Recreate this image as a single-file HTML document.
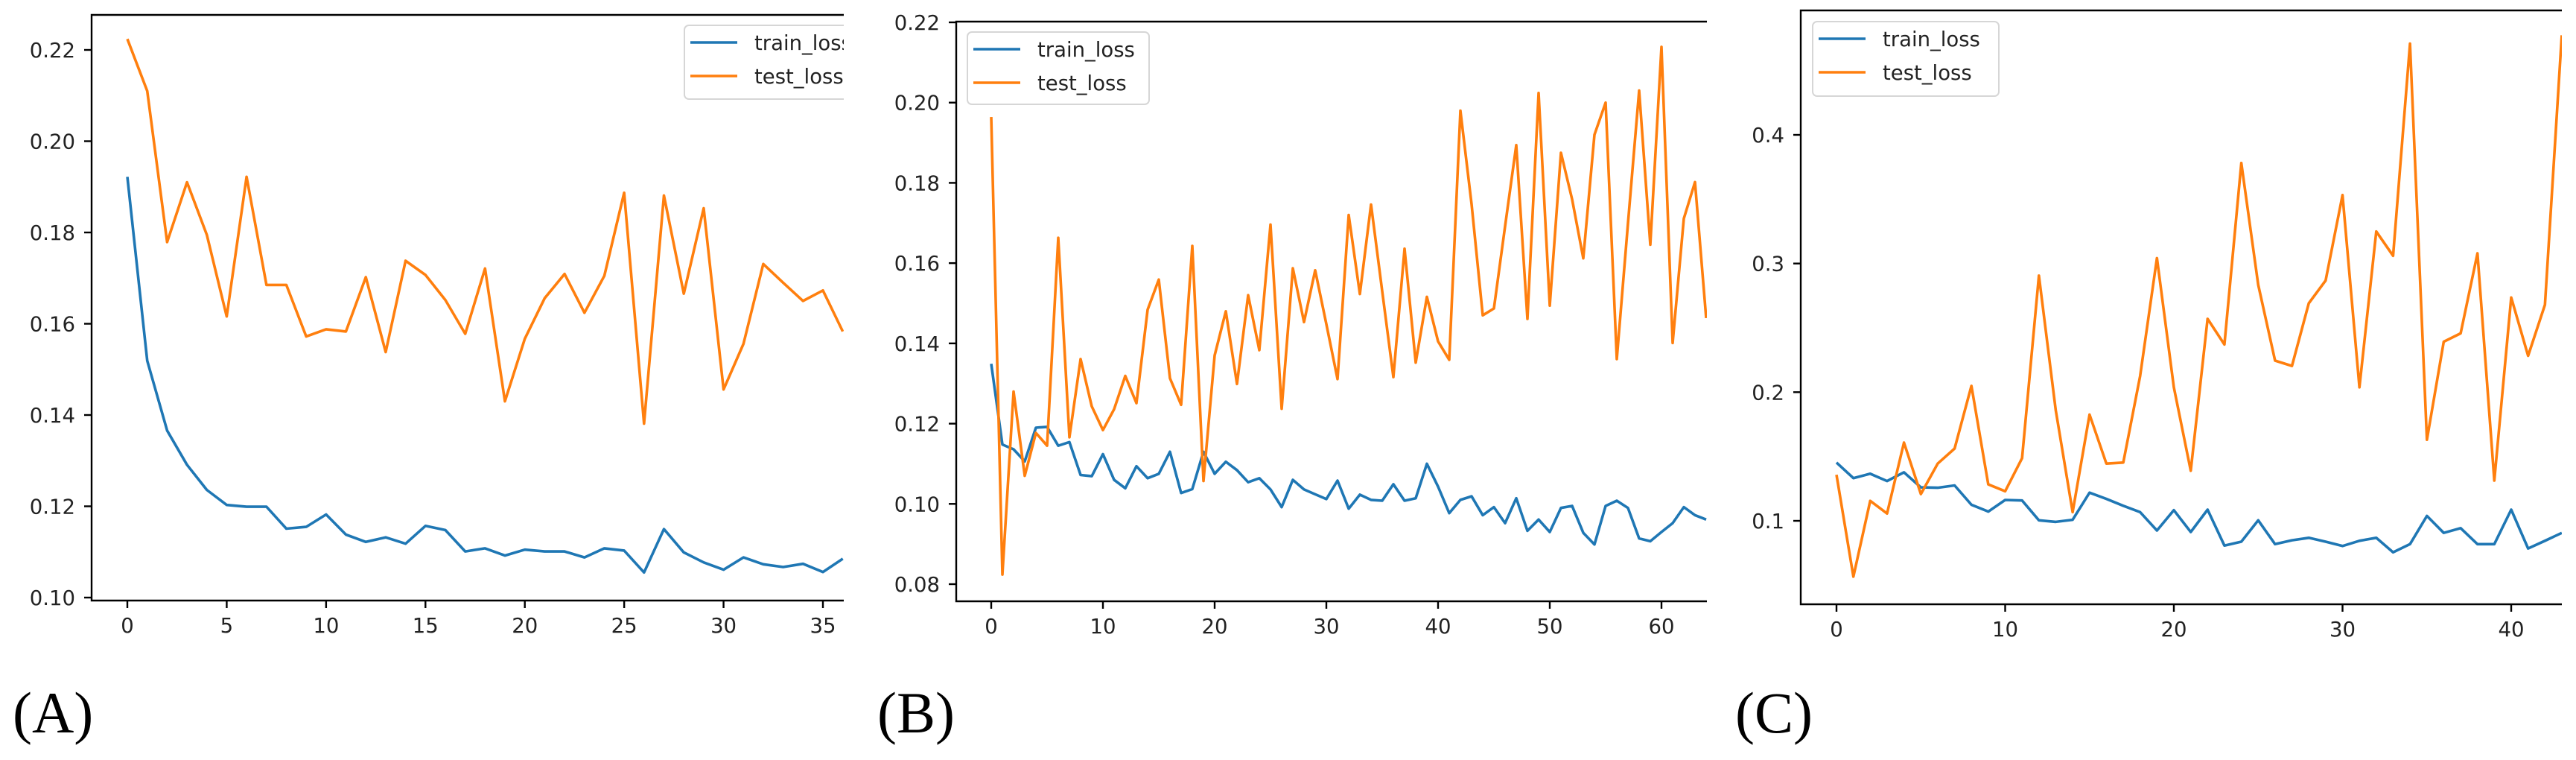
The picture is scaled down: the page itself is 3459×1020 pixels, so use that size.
<!DOCTYPE html>
<html><head><meta charset="utf-8"><style>
html,body{margin:0;padding:0;background:#fff;}
svg{display:block;}
</style></head><body>
<svg id="fig" width="3459" height="1020" xmlns="http://www.w3.org/2000/svg" font-family="DejaVu Sans, Liberation Sans, sans-serif">
<defs>
<clipPath id="clipA"><rect x="123" y="0" width="1010" height="1020"/></clipPath>
<clipPath id="clipB"><rect x="1284" y="0" width="1008" height="1020"/></clipPath>
<clipPath id="clipC"><rect x="2418" y="0" width="1022" height="1020"/></clipPath>
</defs>
<text x="17" y="983" font-family="Liberation Serif, serif" font-size="78">(A)</text>
<text x="1178" y="983" font-family="Liberation Serif, serif" font-size="78">(B)</text>
<text x="2330" y="983" font-family="Liberation Serif, serif" font-size="78">(C)</text>
</svg>
<script>
const trainA=[0.1922,0.1519,0.1366,0.1291,0.1236,0.1203,0.1199,0.1199,0.1151,0.1155,0.1182,0.1138,0.1122,0.1132,0.1118,0.1157,0.1148,0.1101,0.1108,0.1092,0.1105,0.1101,0.1101,0.1088,0.1108,0.1103,0.1055,0.1150,0.1099,0.1077,0.1061,0.1088,0.1073,0.1067,0.1074,0.1056,0.1085];
const testA=[0.2224,0.2110,0.1779,0.1910,0.1795,0.1616,0.1922,0.1685,0.1685,0.1572,0.1588,0.1583,0.1702,0.1538,0.1738,0.1707,0.1652,0.1578,0.1721,0.1430,0.1567,0.1656,0.1709,0.1624,0.1705,0.1887,0.1381,0.1881,0.1666,0.1853,0.1456,0.1556,0.1731,0.1690,0.1650,0.1673,0.1583];
const trainB=[0.1349,0.1148,0.1136,0.1106,0.1190,0.1192,0.1145,0.1154,0.1072,0.1069,0.1124,0.1060,0.1039,0.1094,0.1064,0.1075,0.1130,0.1027,0.1037,0.1130,0.1075,0.1105,0.1084,0.1054,0.1064,0.1036,0.0992,0.1060,0.1036,0.1024,0.1012,0.1058,0.0988,0.1023,0.1010,0.1008,0.1049,0.1008,0.1014,0.1100,0.1043,0.0977,0.1010,0.1019,0.0972,0.0992,0.0952,0.1014,0.0933,0.0961,0.0930,0.0990,0.0995,0.0928,0.0899,0.0995,0.1008,0.0990,0.0914,0.0907,0.0930,0.0952,0.0992,0.0972,0.0961];
const testB=[0.1964,0.0824,0.1280,0.1070,0.1177,0.1145,0.1663,0.1166,0.1361,0.1243,0.1184,0.1236,0.1319,0.1251,0.1484,0.1559,0.1313,0.1247,0.1643,0.1057,0.1370,0.1480,0.1299,0.1520,0.1383,0.1696,0.1237,0.1587,0.1453,0.1582,0.1448,0.1311,0.1720,0.1523,0.1746,0.1530,0.1316,0.1636,0.1352,0.1516,0.1405,0.1359,0.1980,0.1747,0.1470,0.1487,0.1692,0.1894,0.1461,0.2024,0.1494,0.1875,0.1759,0.1612,0.1920,0.2000,0.1361,0.1699,0.2030,0.1646,0.2139,0.1401,0.1711,0.1802,0.1463];
const trainC=[0.1453,0.1332,0.1366,0.1309,0.1377,0.1260,0.1257,0.1275,0.1125,0.1072,0.1162,0.1158,0.1004,0.0992,0.1008,0.1219,0.1170,0.1117,0.1068,0.0925,0.1083,0.0913,0.1087,0.0808,0.0838,0.1004,0.0819,0.0849,0.0868,0.0838,0.0804,0.0845,0.0868,0.0755,0.0819,0.1038,0.0906,0.0943,0.0819,0.0819,0.1087,0.0785,0.0845,0.0906];
const testC=[0.1358,0.0566,0.1155,0.1057,0.1608,0.1208,0.1445,0.1562,0.2049,0.1283,0.1230,0.1487,0.2906,0.1860,0.1068,0.1826,0.1445,0.1453,0.2125,0.3042,0.2038,0.1389,0.2570,0.2370,0.3781,0.2834,0.2245,0.2204,0.2691,0.2868,0.3532,0.2038,0.3249,0.3060,0.4709,0.1630,0.2392,0.2457,0.3079,0.1313,0.2736,0.2283,0.2679,0.4774];
const yTicksA=[0.10,0.12,0.14,0.16,0.18,0.20,0.22];
const yTickLabelsA=["0.10","0.12","0.14","0.16","0.18","0.20","0.22"];
const xTicksA=[0,5,10,15,20,25,30,35];
const yTicksB=[0.08,0.10,0.12,0.14,0.16,0.18,0.20,0.22];
const yTickLabelsB=["0.08","0.10","0.12","0.14","0.16","0.18","0.20","0.22"];
const xTicksB=[0,10,20,30,40,50,60];
const yTicksC=[0.1,0.2,0.3,0.4];
const yTickLabelsC=["0.1","0.2","0.3","0.4"];
const xTicksC=[0,10,20,30,40];
const legendLabels=["train_loss","test_loss"];

const NS="http://www.w3.org/2000/svg";
const svg=document.getElementById('fig');
function mk(tag,attrs,parent){const e=document.createElementNS(NS,tag);for(const k in attrs)e.setAttribute(k,attrs[k]);(parent||svg).appendChild(e);return e;}

function panel(cfg){
  const g=mk('g',{});
  
  
  const xs=v=>cfg.x0p+(v-cfg.x0v)*(cfg.x1p-cfg.x0p)/(cfg.x1v-cfg.x0v);
  const ys=v=>cfg.y0p+(v-cfg.y0v)*(cfg.y1p-cfg.y0p)/(cfg.y1v-cfg.y0v);
  const cg=mk('g',{'clip-path':'url(#'+cfg.clip+')'},g);
  const series=[[cfg.train,'#1f77b4','train-loss-line'],[cfg.test,'#ff7f0e','test-loss-line']];
  series.forEach(s=>{
    const d=s[0].map((v,i)=>(i?'L':'M')+xs(i).toFixed(1)+','+ys(v).toFixed(1)).join(' ');
    const p=mk('path',{d:d,fill:'none',stroke:s[1],'stroke-width':3.6,'stroke-linejoin':'round'},cg);
    
    
  });
  const sp=mk('path',{d:`M${cfg.R},${cfg.T} L${cfg.L},${cfg.T} L${cfg.L},${cfg.B} L${cfg.R},${cfg.B}`,fill:'none',stroke:'#000','stroke-width':2.4},g);
  
  
  cfg.yt.forEach((v,i)=>{
    const y=ys(v);
    mk('line',{x1:cfg.L-10,x2:cfg.L,y1:y,y2:y,stroke:'#000','stroke-width':2.4},g);
    const t=mk('text',{x:cfg.L-22,y:y+10,'text-anchor':'end','font-size':27.5,fill:'#222'},g);
    t.textContent=cfg.ytl[i];
    
    
  });
  cfg.xt.forEach(v=>{
    const x=xs(v);
    mk('line',{x1:x,x2:x,y1:cfg.B,y2:cfg.B+10,stroke:'#000','stroke-width':2.4},g);
    const t=mk('text',{x:x,y:cfg.B+43,'text-anchor':'middle','font-size':27.5,fill:'#222'},g);
    t.textContent=String(v);
    
    
  });
  const lg=mk('g',{'clip-path':'url(#'+cfg.clip+')'},g);
  
  
  mk('rect',{x:cfg.lx,y:cfg.ly,width:cfg.lw,height:cfg.lh,rx:6,fill:'#fff','fill-opacity':0.8,stroke:'#d6d6d6','stroke-width':2},lg);
  ['#1f77b4','#ff7f0e'].forEach((c,i)=>{
    const yy=cfg.ly+23+i*45;
    mk('line',{x1:cfg.lx+8,x2:cfg.lx+71,y1:yy,y2:yy,stroke:c,'stroke-width':3.6},lg);
    const t=mk('text',{x:cfg.lx+94,y:yy+10,'font-size':27.5,fill:'#222'},lg);
    t.textContent=legendLabels[i];
    
    
  });
}

panel({id:'a',clip:'clipA',train:trainA,test:testA,L:123,R:1133,T:20,B:806,
  x0v:0,x0p:171,x1v:35,x1p:1105,y0v:0.10,y0p:802,y1v:0.22,y1p:67,
  yt:yTicksA,ytl:yTickLabelsA,xt:xTicksA,lx:919,ly:34,lw:250,lh:99});
panel({id:'b',clip:'clipB',train:trainB,test:testB,L:1284,R:2292,T:29,B:807,
  x0v:0,x0p:1331,x1v:60,x1p:2231,y0v:0.08,y0p:784,y1v:0.22,y1p:30,
  yt:yTicksB,ytl:yTickLabelsB,xt:xTicksB,lx:1299,ly:43,lw:244,lh:97});
panel({id:'c',clip:'clipC',train:trainC,test:testC,L:2418,R:3440,T:14,B:811,
  x0v:0,x0p:2466,x1v:40,x1p:3372,y0v:0.1,y0p:699,y1v:0.4,y1p:181,
  yt:yTicksC,ytl:yTickLabelsC,xt:xTicksC,lx:2434,ly:29,lw:250,lh:100});
</script>
</body></html>
